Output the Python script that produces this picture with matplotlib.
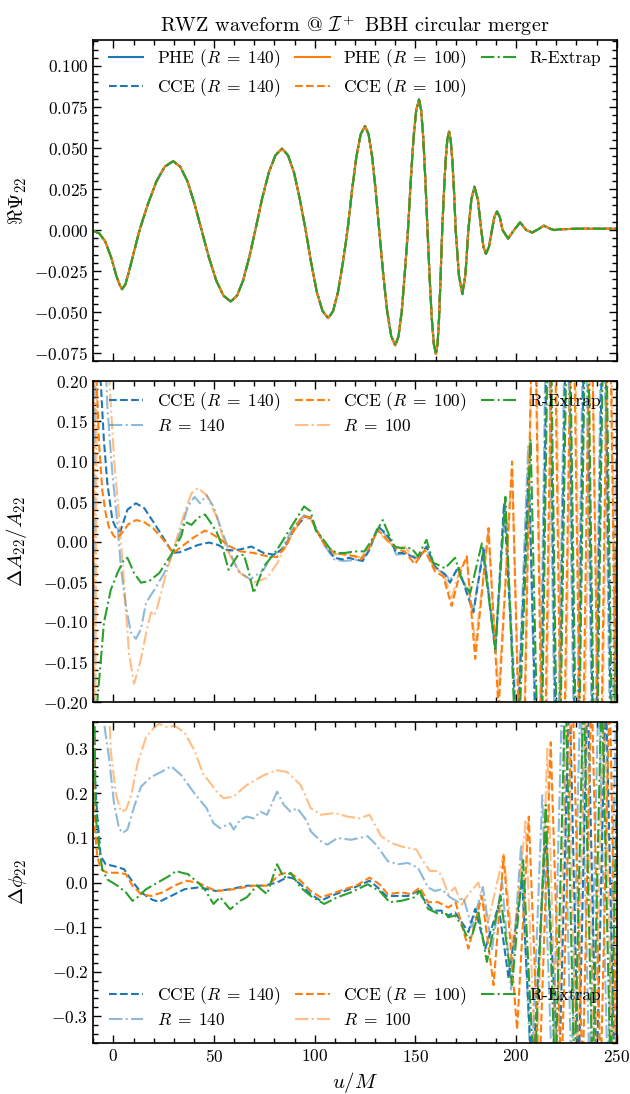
import matplotlib
matplotlib.use('Agg')
import matplotlib.pyplot as plt
from matplotlib.ticker import MultipleLocator, AutoMinorLocator

plt.rcParams.update({
    'font.family': ['cmr10', 'DejaVu Serif'],
    'mathtext.fontset': 'cm',
    'axes.formatter.use_mathtext': True,
    'axes.unicode_minus': True,
    'axes.linewidth': 1.2,
    'xtick.direction': 'in',
    'ytick.direction': 'in',
    'xtick.top': True,
    'ytick.right': True,
    'xtick.major.size': 6,
    'ytick.major.size': 6,
    'xtick.minor.size': 3.5,
    'ytick.minor.size': 3.5,
    'xtick.labelsize': 12.5,
    'ytick.labelsize': 12.5,
    'legend.fontsize': 12.5,
})

# ---- Re Psi_22 (all extractions lie on top of each other) ----
u_wave = [-10, -7, -4, -1, 1.5, 3, 4.3, 6, 8, 10.5, 13,
          17.2, 21.4, 25.5, 29.7, 33.2, 36.8, 40.3, 43.8,
          47.4, 51.1, 54.7, 58.3, 61.4, 64.4, 67.5, 70.5,
          73.8, 77.2, 80.5, 83.8, 86.7, 89.7, 92.6, 95.5,
          98.3, 101.1, 103.9, 106.7, 109.1, 111.5, 113.9, 116.3,
          118.5, 120.7, 122.8, 125, 126.75, 128.5, 130.25, 132,
          134, 136, 138, 140, 141.6, 143.2, 144.7, 146.3,
          147.7, 149.05, 150.4, 151.8, 152.85, 153.9, 154.95, 156,
          157.05, 158.1, 159.15, 160.2, 161, 161.75, 162.5, 163.3,
          164.15, 165, 165.85, 166.7, 167.5, 168.35, 169.2, 170,
          171.6, 173.3, 174.8, 176.3,
          177.8, 179.3, 181, 182.7,
          183.8, 185, 186.5, 188,
          189.2, 190.5, 191.9, 193.3,
          196, 199, 202, 205, 208, 211, 213.8, 217, 219, 222, 230, 240, 250]
re_psi = [-0.0005, -0.002, -0.007, -0.017, -0.028, -0.033, -0.036, -0.033, -0.024, -0.012, 0.0,
          0.016, 0.0297, 0.0386, 0.042, 0.0386, 0.0297, 0.016, 0.0,
          -0.0165, -0.0308, -0.040, -0.0435, -0.040, -0.0308, -0.0165, 0.0,
          0.0188, 0.0351, 0.0456, 0.0496, 0.0456, 0.0351, 0.0188, 0.0,
          -0.0204, -0.038, -0.0494, -0.0537, -0.0494, -0.038, -0.0204, 0.0,
          0.0241, 0.0448, 0.0583, 0.0634, 0.0583, 0.0448, 0.0241, 0.0,
          -0.0267, -0.0497, -0.0647, -0.0703, -0.0647, -0.0497, -0.0267, 0.0,
          0.0302, 0.0562, 0.0731, 0.0795, 0.0731, 0.0562, 0.0302, 0.0,
          -0.0287, -0.0534, -0.0695, -0.0755, -0.0695, -0.0534, -0.0287, 0.0,
          0.0228, 0.0424, 0.0552, 0.060, 0.0552, 0.0424, 0.0228, 0.0,
          -0.0276, -0.039, -0.0276, 0.0,
          0.0187, 0.0264, 0.0187, 0.0,
          -0.0103, -0.0145, -0.0103, 0.0,
          0.008, 0.0113, 0.008, 0.0,
          -0.0052, 0.0, 0.0047, 0.0, -0.0015, 0.0005, 0.0027, 0.0008, 0.0, 0.0005, 0.0008, 0.0008, 0.0008]

# ---- Delta A_22 / A_22 ----
u_amp_cce140 = [-8, -6.3, -4.7, -3, -0.5, 1.5, 3.5, 7, 11.2, 15.3, 20.3, 25.3, 29.5, 33, 37, 42, 47.5,
                52, 56.3, 60, 64, 68.5, 74.7, 79.7, 84.7, 89.7, 95, 98, 101.5, 104.7, 109.7, 113.8,
                117, 119.7, 123.8, 127.2, 131.5, 134.5, 137.2, 140.5, 143.5, 146.3, 151.3, 155.5,
                159.7, 164.7, 167.2, 171.3, 175.5, 178.8, 183.8, 189.7, 194, 200.5, 206.3, 211.5,
                216, 220.5, 225.5, 230, 234.5, 239, 243.5, 248, 250]
amp_cce140 = [0.30, 0.20, 0.126, 0.073, 0.027, 0.016, 0.013, 0.040, 0.048, 0.042, 0.023, 0.003, -0.014,
              -0.013, -0.009, -0.004, -0.001, -0.004, -0.010, -0.011, -0.009, -0.006, -0.014, -0.016,
              -0.008, 0.015, 0.031, 0.030, 0.012, -0.002, -0.020, -0.022, -0.020, -0.022, -0.024,
              -0.010, 0.019, 0.012, 0.004, -0.014, -0.014, -0.016, -0.022, -0.006, -0.031, -0.041,
              -0.051, -0.031, -0.064, -0.088, -0.010, -0.138, 0.048, -0.25, 0.093, -0.4, 0.4, -0.4,
              0.4, -0.4, 0.4, -0.4, 0.4, -0.4, 0.0]

u_amp_r140 = [-10, -9, -5, -3, -0.5, 2, 3.7, 6.2, 8.7, 11.2, 13.7, 16.2, 20.3, 25.3, 29.5, 33.7, 37,
              40.3, 43, 46.3, 49.7, 53.8, 58, 62.2, 68, 74.7, 78, 83, 89.7, 94.7, 98, 101.5, 104.7,
              109.7, 114, 119.7, 124, 127.2, 131.5, 137, 140.5, 146, 151, 155.5, 159.7, 164.7, 167.2,
              171.3, 175.5, 178.8, 183.8, 189.7, 194.5, 200.5, 206, 211, 215.5, 220, 225, 229.5, 234,
              238.5, 243, 247.5, 250]
amp_r140 = [-0.4, 0.4, 0.3, 0.168, 0.085, 0.023, -0.031, -0.080, -0.113, -0.121, -0.109, -0.076, -0.060,
            -0.039, -0.014, 0.015, 0.044, 0.056, 0.048, 0.058, 0.044, 0.014, -0.014, -0.037, -0.047,
            -0.035, -0.019, -0.011, 0.019, 0.033, 0.030, 0.012, -0.004, -0.022, -0.024, -0.023,
            -0.022, -0.008, 0.018, 0.004, -0.016, -0.015, -0.020, -0.008, -0.033, -0.040, -0.048,
            -0.033, -0.060, -0.085, -0.008, -0.130, 0.050, -0.24, 0.12, -0.4, 0.4, -0.4, 0.4, -0.4,
            0.4, -0.4, 0.4, -0.4, 0.2]

u_amp_cce100 = [-9.5, -8.3, -7.2, -5.5, -3.8, -2.2, 0, 1.5, 4, 7.5, 11.3, 15, 19.7, 25, 29.7, 35, 39.7,
                45.5, 49.5, 53, 58, 63, 69.7, 76.3, 81.3, 86.3, 90, 94, 98, 101.5, 104.7, 109.7, 114.7,
                119.7, 123, 127, 131.3, 136.3, 141.3, 144.7, 149.7, 154.7, 159.7, 163.8, 168, 172,
                175.5, 179.7, 186.3, 191.3, 198, 203, 208.8, 213.5, 218.5, 223, 228, 232.5, 237,
                241.5, 246, 250]
amp_cce100 = [0.30, 0.20, 0.126, 0.064, 0.035, 0.018, 0.008, 0.004, 0.010, 0.022, 0.027, 0.025, 0.017,
              0.002, -0.014, -0.004, 0.005, 0.014, 0.009, 0.003, -0.006, -0.012, -0.014, -0.018,
              -0.019, -0.003, 0.018, 0.032, 0.030, 0.012, -0.002, -0.014, -0.016, -0.018, -0.022,
              -0.008, 0.015, 0.002, -0.010, -0.012, -0.028, -0.010, -0.037, -0.043, -0.080, -0.040,
              -0.018, -0.146, 0.017, -0.21, 0.10, -0.4, 0.4, -0.4, 0.4, -0.4, 0.4, -0.4, 0.4, -0.4,
              0.4, -0.3]

u_amp_r100 = [-10, -9.2, -8, -3, -2, 0.5, 2.5, 3.8, 5.5, 7.8, 10.3, 13.7, 17, 18.7, 20.3, 22, 26.2,
              30.3, 35.3, 38.7, 42, 46.3, 51.3, 56.3, 63, 69.7, 76.3, 81.3, 88, 93.8, 98, 101.5,
              104.7, 109.7, 114.7, 119.7, 123, 127, 131.3, 136.3, 141.3, 144.7, 149.7, 154.7, 159.7,
              164, 168, 172, 175.5, 179.7, 186.3, 191.3, 198, 203, 209, 214, 219, 223.5, 228.5, 233,
              237.5, 242, 246.5, 250]
amp_r100 = [0.4, -0.4, 0.4, 0.3, 0.2, 0.098, 0.040, 0.0, -0.060, -0.140, -0.177, -0.146, -0.105, -0.088,
            -0.092, -0.080, -0.039, -0.006, 0.036, 0.060, 0.067, 0.058, 0.031, -0.010, -0.039, -0.051,
            -0.045, -0.027, 0.006, 0.029, 0.028, 0.012, -0.004, -0.016, -0.014, -0.017, -0.020,
            -0.006, 0.013, 0.0, -0.008, -0.006, -0.022, -0.012, -0.033, -0.040, -0.070, -0.035,
            -0.020, -0.130, 0.012, -0.19, 0.09, -0.35, 0.4, -0.4, 0.4, -0.4, 0.4, -0.4, 0.3, -0.4,
            0.4, -0.3]

u_amp_extrap = [-9, -8, -6.3, -4.7, -1.3, 2, 5.3, 7, 10.3, 13.7, 17.8, 22.8, 28.7, 33.7, 35.5, 38.8, 42,
                45.5, 48, 51.3, 54, 57.2, 61.5, 64.8, 67, 69.7, 74.7, 81.3, 89.7, 94.7, 98, 100.5, 103,
                108, 111.3, 115, 119.7, 124.7, 129, 133.8, 137, 139.7, 143, 148, 151.3, 155.5, 158.8,
                164.7, 169.7, 173, 177.2, 183, 189.7, 194.7, 200.5, 207.2, 212, 216.5, 221, 226,
                230.5, 235, 239.5, 244, 248.5, 250]
amp_extrap = [-0.4, -0.2, -0.150, -0.101, -0.060, -0.039, -0.022, -0.020, -0.039, -0.051, -0.049, -0.039,
              -0.016, 0.007, 0.025, 0.021, 0.030, 0.034, 0.025, 0.012, -0.005, -0.035, -0.018, -0.016,
              -0.035, -0.064, -0.031, -0.010, 0.024, 0.044, 0.038, 0.014, 0.007, -0.010, -0.014,
              -0.014, -0.012, -0.012, 0.005, 0.027, 0.008, -0.006, -0.008, -0.008, -0.018, 0.0025,
              -0.026, -0.033, -0.020, -0.047, -0.064, -0.002, -0.134, 0.056, -0.3, 0.128, -0.4, 0.4,
              -0.4, 0.4, -0.4, 0.4, -0.4, 0.4, -0.4, 0.0]

# ---- Delta phi_22 ----
u_ph_cce140 = [-10, -9, -8, -6.3, -3.8, 0.3, 5.3, 8.7, 13.7, 19.5, 22.8, 28.7, 35.3, 42, 47, 51, 58,
               66.3, 74.7, 81.3, 86.3, 89, 93, 98, 103, 108, 114.7, 119.7, 127.2, 131.3, 135.5, 141.3,
               146.3, 151.3, 154.7, 158.8, 163, 166.3, 169.7, 176.3, 179.7, 184.7, 191.3, 196.3, 203,
               208, 214.7, 221.3, 226.5, 231, 235.5, 240, 244.5, 249, 250]
ph_cce140 = [0.5, 0.222, 0.148, 0.059, 0.041, 0.037, 0.030, 0.007, -0.022, -0.039, -0.043, -0.030, -0.015,
             -0.011, -0.015, -0.019, -0.015, -0.007, -0.007, 0.0, 0.012, 0.010, -0.004, -0.026, -0.041,
             -0.030, -0.019, -0.011, 0.004, -0.011, -0.030, -0.030, -0.030, -0.019, -0.041, -0.063,
             -0.063, -0.074, -0.067, -0.111, -0.059, -0.148, -0.052, -0.215, 0.007, -0.45, 0.111,
             -0.45, 0.45, -0.45, 0.45, -0.45, 0.45, -0.45, -0.3]

u_ph_r140 = [-6, -4.7, -2.2, 0.3, 2.8, 4.5, 7, 10.3, 13.7, 18.7, 23.7, 28.7, 33.7, 40.3, 46.3, 49.7, 53,
             58, 59.7, 63, 66.3, 69.7, 73, 76.3, 81.3, 84.7, 88, 91.3, 96.3, 98, 103, 106.3, 111.3, 118,
             122.2, 126.3, 130.5, 136.3, 141.3, 146.3, 151.3, 156.3, 159.7, 163, 167.2, 171.3, 173.8,
             178, 183.5, 188, 193, 197.5, 202.5, 207.5, 213, 218, 223, 227.5, 232, 236.5, 241, 245.5, 250]
ph_r140 = [0.5, 0.36, 0.281, 0.178, 0.122, 0.111, 0.119, 0.170, 0.215, 0.237, 0.248, 0.261, 0.241, 0.200,
           0.167, 0.133, 0.122, 0.133, 0.119, 0.141, 0.148, 0.144, 0.159, 0.152, 0.204, 0.174, 0.159,
           0.167, 0.137, 0.115, 0.093, 0.085, 0.100, 0.096, 0.100, 0.104, 0.085, 0.048, 0.041, 0.044,
           0.033, -0.011, -0.019, -0.015, -0.033, -0.044, -0.033, -0.100, -0.010, -0.150, 0.004,
           -0.24, 0.085, -0.45, 0.196, -0.45, 0.45, -0.45, 0.45, -0.45, 0.45, -0.45, 0.45]

u_ph_cce100 = [-10, -9.7, -8, -6.3, -3, 2, 6.2, 9.5, 13.7, 18.7, 24.5, 30.3, 36.2, 42, 47, 51.3, 59.7,
               69.7, 76.3, 83, 86.3, 89, 93, 98, 103, 108, 114.7, 120.5, 127.2, 132.2, 136.3, 143, 148,
               152.2, 156.3, 161.3, 166.3, 170, 176.3, 183, 188.8, 193.8, 200.5, 206.3, 211.5, 217.2,
               222.5, 228, 233, 237.5, 242, 246.5, 250]
ph_cce100 = [0.4, 0.148, 0.059, 0.030, 0.022, 0.022, 0.019, -0.007, -0.026, -0.030, -0.022, -0.007, 0.004,
             0.0, -0.011, -0.019, -0.015, -0.007, -0.007, 0.019, 0.022, 0.018, 0.004, -0.019, -0.033,
             -0.026, -0.015, -0.007, 0.011, -0.004, -0.026, -0.022, -0.026, -0.011, -0.044, -0.044,
             -0.056, -0.045, -0.148, -0.030, -0.23, 0.059, -0.33, 0.148, -0.45, 0.315, -0.45, 0.45,
             -0.45, 0.45, -0.45, 0.45, -0.45]

u_ph_r100 = [-3, -1.3, 1.2, 3.7, 6.2, 8.7, 12, 16.2, 20.3, 22.8, 27, 30.3, 35.3, 40.3, 44.5, 47, 51.3, 54.7,
             59.7, 66.3, 74.7, 81.3, 86.3, 93, 98, 103, 109.7, 116.3, 122.2, 127.2, 133, 138, 143,
             150.5, 153.8, 157.2, 161.3, 163, 166.3, 169.7, 173, 176.3, 181.3, 186, 193.8, 198.5,
             204.7, 210, 215.5, 220.5, 225.5, 230, 234.5, 239, 243.5, 248, 250]
ph_r100 = [0.5, 0.296, 0.200, 0.159, 0.163, 0.193, 0.267, 0.326, 0.348, 0.356, 0.348, 0.352, 0.337, 0.296,
           0.244, 0.230, 0.204, 0.189, 0.193, 0.219, 0.241, 0.252, 0.248, 0.219, 0.167, 0.152, 0.156,
           0.148, 0.144, 0.152, 0.104, 0.089, 0.081, 0.074, 0.048, 0.026, 0.026, 0.015, -0.026, -0.011,
           -0.050, -0.026, 0.0, -0.09, 0.063, -0.15, 0.137, -0.45, 0.3, -0.45, 0.45, -0.45, 0.45,
           -0.45, 0.45, -0.45, 0.0]

u_ph_extrap = [-9.5, -8.8, -7.2, -5.5, -3, 2, 6.2, 9.5, 12, 16.2, 22, 27.8, 31.2, 34, 37, 42, 45.3, 49.7,
               53, 58, 63, 66.3, 71.3, 76.3, 81.3, 84.7, 88, 93, 98, 104.7, 111.3, 118, 126.3, 132.2,
               137.2, 143, 149.7, 152.2, 156.3, 161.3, 164.7, 166.3, 169.7, 173, 176, 178, 181.3, 185.5,
               192.2, 198, 203.5, 209, 214.7, 219.5, 224.5, 229, 233.5, 238, 242.5, 247, 250]
ph_extrap = [0.4, 0.148, 0.081, 0.030, 0.007, -0.007, -0.022, -0.041, -0.033, -0.015, 0.0, 0.015, 0.026,
             0.022, 0.019, 0.0, -0.015, -0.048, -0.033, -0.060, -0.041, -0.033, -0.007, -0.026, 0.041,
             0.011, 0.022, -0.011, -0.030, -0.048, -0.033, -0.022, -0.004, -0.019, -0.044, -0.041,
             -0.033, -0.019, -0.059, -0.070, -0.067, -0.078, -0.074, -0.096, -0.125, -0.122, -0.067,
             -0.178, -0.030, -0.230, 0.05, -0.45, 0.174, -0.45, 0.45, -0.45, 0.45, -0.45, 0.45, -0.45,
             0.2]

lw = 1.5
light = 0.5
lab_140 = r'$R\;=\;140$'
lab_100 = r'$R\;=\;100$'
leg_kw = dict(ncol=3, frameon=False, handlelength=2.0, handletextpad=0.8, columnspacing=0.8,
              borderpad=0.4)

fig = plt.figure(figsize=(6.3, 10.94), dpi=100)
gs = fig.add_gridspec(3, 1, left=0.148, right=0.979, top=0.963, bottom=0.0466, hspace=0.062)
ax1 = fig.add_subplot(gs[0])
ax2 = fig.add_subplot(gs[1], sharex=ax1)
ax3 = fig.add_subplot(gs[2], sharex=ax1)

# Waveform
ax1.plot(u_wave, re_psi, color='C0', ls='-', lw=lw, label='PHE (' + lab_140 + ')')
ax1.plot(u_wave, re_psi, color='C0', ls='--', lw=lw, label='CCE (' + lab_140 + ')')
ax1.plot(u_wave, re_psi, color='C1', ls='-', lw=lw, label='PHE (' + lab_100 + ')')
ax1.plot(u_wave, re_psi, color='C1', ls='--', lw=lw, label='CCE (' + lab_100 + ')')
ax1.plot(u_wave, re_psi, color='C2', ls='-.', lw=lw, label='R-Extrap')
ax1.set_ylim(-0.08, 0.1155)
ax1.yaxis.set_major_locator(MultipleLocator(0.025))
ax1.set_ylabel(r'$\Re\Psi_{22}$', fontsize=15)
ax1.set_title(r'RWZ waveform @ $\mathcal{I}^+$ BBH circular merger', fontsize=14.5)
ax1.legend(loc='upper center', labelspacing=0.35, borderaxespad=0.0, **leg_kw)

# Relative amplitude difference
ax2.plot(u_amp_cce140, amp_cce140, color='C0', ls='--', lw=lw, label='CCE (' + lab_140 + ')')
ax2.plot(u_amp_r140, amp_r140, color='C0', ls='-.', lw=lw, alpha=light, label=lab_140)
ax2.plot(u_amp_cce100, amp_cce100, color='C1', ls='--', lw=lw, label='CCE (' + lab_100 + ')')
ax2.plot(u_amp_r100, amp_r100, color='C1', ls='-.', lw=lw, alpha=light, label=lab_100)
ax2.plot(u_amp_extrap, amp_extrap, color='C2', ls='-.', lw=lw, label='R-Extrap')
ax2.set_ylim(-0.2, 0.2)
ax2.yaxis.set_major_locator(MultipleLocator(0.05))
ax2.set_ylabel(r'$\Delta A_{22}/A_{22}$', fontsize=15)
ax2.legend(loc='upper center', labelspacing=0.3, borderaxespad=0.1, **leg_kw)

# Phase difference
ax3.plot(u_ph_cce140, ph_cce140, color='C0', ls='--', lw=lw, label='CCE (' + lab_140 + ')')
ax3.plot(u_ph_r140, ph_r140, color='C0', ls='-.', lw=lw, alpha=light, label=lab_140)
ax3.plot(u_ph_cce100, ph_cce100, color='C1', ls='--', lw=lw, label='CCE (' + lab_100 + ')')
ax3.plot(u_ph_r100, ph_r100, color='C1', ls='-.', lw=lw, alpha=light, label=lab_100)
ax3.plot(u_ph_extrap, ph_extrap, color='C2', ls='-.', lw=lw, label='R-Extrap')
ax3.set_ylim(-0.36, 0.36)
ax3.yaxis.set_major_locator(MultipleLocator(0.1))
ax3.set_ylabel(r'$\Delta\phi_{22}$', fontsize=15)
ax3.set_xlabel(r'$u/M$', fontsize=15)
ax3.legend(loc='lower center', labelspacing=0.3, borderaxespad=0.45, **leg_kw)

ax3.set_xlim(-10, 250)
ax3.xaxis.set_major_locator(MultipleLocator(50))
for ax in (ax1, ax2, ax3):
    ax.xaxis.set_minor_locator(AutoMinorLocator(5))
    ax.yaxis.set_minor_locator(AutoMinorLocator(5))
    ax.tick_params(which='both', width=1.0)
for ax in (ax1, ax2):
    ax.tick_params(labelbottom=False)

fig.align_ylabels([ax1, ax2, ax3])
fig.savefig('out.png', dpi=100)
